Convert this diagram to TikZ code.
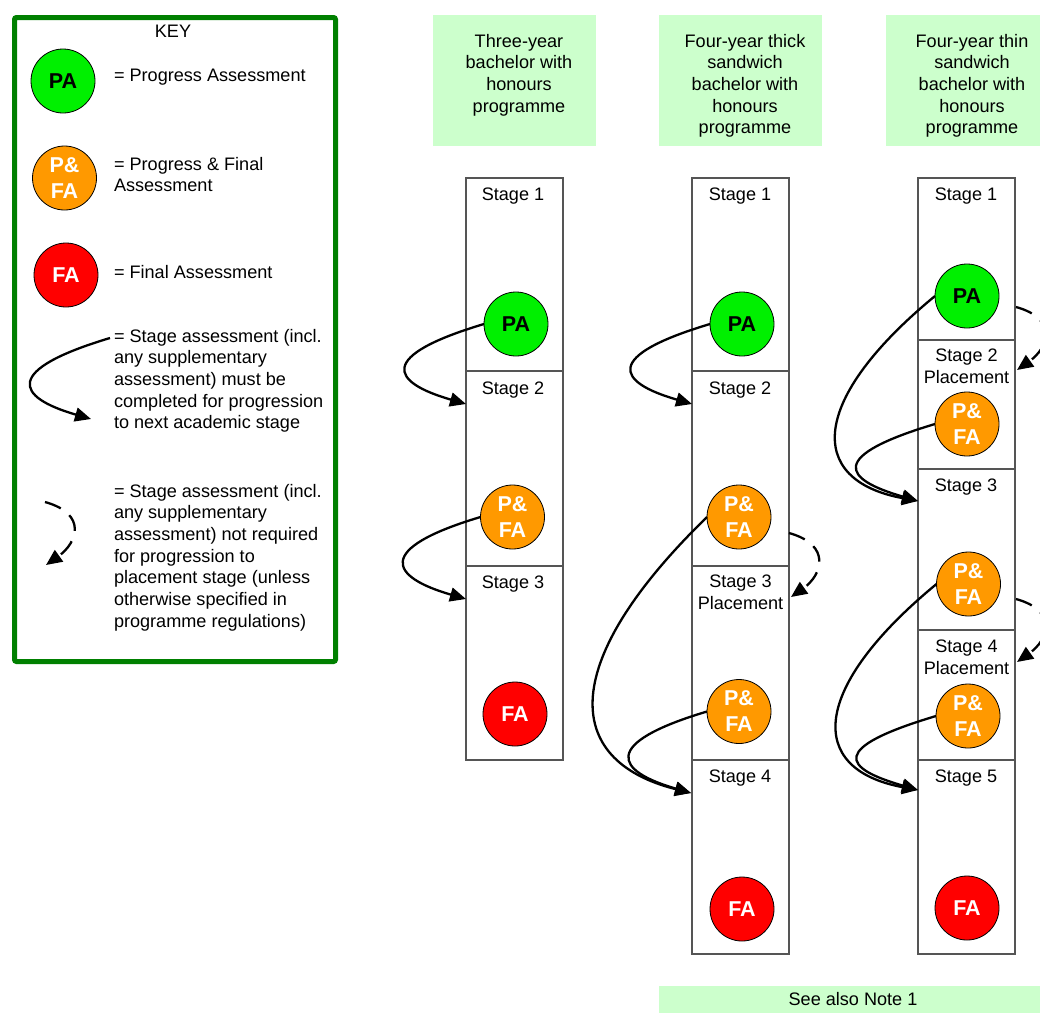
\documentclass[tikz,border=0pt]{standalone}
\usepackage{fontspec}
\setmainfont{Liberation Sans}
\usetikzlibrary{arrows.meta}
\definecolor{keygreen}{RGB}{0,128,0}
\definecolor{hdrgreen}{RGB}{204,255,204}
\definecolor{pagreen}{RGB}{0,240,0}
\definecolor{pfaorange}{RGB}{255,153,0}
\definecolor{fared}{RGB}{255,0,0}
\definecolor{stagegray}{RGB}{85,85,85}
\begin{document}
\begin{tikzpicture}[x=1pt,y=-1pt,
  every node/.style={inner sep=0pt, outer sep=0pt, font=\fontsize{18.1}{21.7}\selectfont},
  hdr/.style={fill=hdrgreen, minimum width=163pt, minimum height=131pt, anchor=north west},
  txt/.style={align=center, anchor=north},
  ltxt/.style={align=left, anchor=north west},
  stagebox/.style={draw=stagegray, line width=1.1pt, minimum width=97pt, anchor=north west},
  asmt/.style={circle, draw=black, line width=0.8pt, minimum size=64pt, align=center,
    font=\fontsize{21.5}{26}\selectfont\bfseries},
  pa/.style={asmt, fill=pagreen, text=black},
  pfa/.style={asmt, fill=pfaorange, text=white},
  fa/.style={asmt, fill=fared, text=white},
  flow/.style={line width=2.3pt, -{Triangle[length=16pt,width=14pt]}},
  opt/.style={line width=2.3pt, dash pattern=on 17pt off 11pt, -{Triangle[length=16pt,width=14pt]}},
  shortloop/.style={to path={.. controls +(-107,32) and +(-76,-22) .. (\tikztotarget)}},
  longloop/.style={to path={.. controls +(-147,143) and +(-131,-33) .. (\tikztotarget)}},
  midloop/.style={to path={.. controls +(-125,103) and +(-113,-21) .. (\tikztotarget)}},
  dashloop/.style={to path={.. controls +(43,12) and +(31,-22) .. (\tikztotarget)}}
]
\useasboundingbox (0,0) rectangle (1040,1012);

% ---------- KEY ----------
\draw[keygreen, line width=5pt, rounded corners=2pt] (14.5,17.5) rectangle (335.5,661.5);
\node[anchor=base] (keytitle) at (173,37) {KEY};
\node[pa] (kpa) at (63,81) {PA};
\node[anchor=base west] (kpat) at (114,81) {= Progress Assessment};
\node[pfa] (kpfa) at (64.5,178) {P\&\\FA};
\node[ltxt] (kpfat) at (114,157) {= Progress \& Final\\Assessment};
\node[fa] (kfa) at (66,275) {FA};
\node[anchor=base west] (kfat) at (114,278) {= Final Assessment};
\node[ltxt] (ksolidt) at (114,329) {= Stage assessment (incl.\\any supplementary\\assessment) must be\\completed for progression\\to next academic stage};
\node[ltxt] (kdasht) at (114,484) {= Stage assessment (incl.\\any supplementary\\assessment) not required\\for progression to\\placement stage (unless\\otherwise specified in\\programme regulations)};
\coordinate (ks) at (110,338);
\coordinate (kt) at (91,419);
\coordinate (kds) at (45,502);
\coordinate (kdt) at (46,565);
\draw[flow] (ks) to[shortloop] (kt);
\draw[opt] (kds) to[dashloop] (kdt);

% ---------- headers ----------
\node[hdr] (h1) at (433,15) {};
\node[hdr] (h2) at (659,15) {};
\node[hdr] (h3) at (886,15) {};
\node[txt] (h1t) at (519,34) {Three-year\\bachelor with\\honours\\programme};
\node[txt] (h2t) at (745,34) {Four-year thick\\sandwich\\bachelor with\\honours\\programme};
\node[txt] (h3t) at (972,34) {Four-year thin\\sandwich\\bachelor with\\honours\\programme};

% ---------- column 1 ----------
\node[stagebox, minimum height=193pt] (c1s1) at (466,178) {};
\node[stagebox, minimum height=195pt] (c1s2) at (466,371) {};
\node[stagebox, minimum height=194pt] (c1s3) at (466,566) {};
\node[anchor=base] (c1l1) at (513,200) {Stage 1};
\node[anchor=base] (c1l2) at (513,394) {Stage 2};
\node[anchor=base] (c1l3) at (513,588) {Stage 3};
\node[pa] (c1pa) at (516,324) {PA};
\node[pfa] (c1pfa) at (512.5,517) {P\&\\FA};
\node[fa] (c1fa) at (515,714) {FA};

% ---------- column 2 ----------
\node[stagebox, minimum height=193pt] (c2s1) at (692,178) {};
\node[stagebox, minimum height=195pt] (c2s2) at (692,371) {};
\node[stagebox, minimum height=194pt] (c2s3) at (692,566) {};
\node[stagebox, minimum height=194pt] (c2s4) at (692,760) {};
\node[anchor=base] (c2l1) at (740,200) {Stage 1};
\node[anchor=base] (c2l2) at (740,394) {Stage 2};
\node[txt] (c2l3) at (740.5,575) {Stage 3\\Placement};
\node[anchor=base] (c2l4) at (740,782) {Stage 4};
\node[pa] (c2pa) at (742,324) {PA};
\node[pfa] (c2pfa1) at (739,517) {P\&\\FA};
\node[pfa] (c2pfa2) at (739,711.5) {P\&\\FA};
\node[fa] (c2fa) at (742,909) {FA};

% ---------- column 3 ----------
\node[stagebox, minimum height=162pt] (c3s1) at (918,178) {};
\node[stagebox, minimum height=129pt] (c3s2) at (918,340) {};
\node[stagebox, minimum height=161pt] (c3s3) at (918,469) {};
\node[stagebox, minimum height=130pt] (c3s4) at (918,630) {};
\node[stagebox, minimum height=194pt] (c3s5) at (918,760) {};
\node[anchor=base] (c3l1) at (966,200) {Stage 1};
\node[txt] (c3l2) at (966.5,349) {Stage 2\\Placement};
\node[anchor=base] (c3l3) at (966,491) {Stage 3};
\node[txt] (c3l4) at (966.5,640) {Stage 4\\Placement};
\node[anchor=base] (c3l5) at (966,782) {Stage 5};
\node[pa] (c3pa) at (967,296) {PA};
\node[pfa] (c3pfa1) at (967,424) {P\&\\FA};
\node[pfa] (c3pfa2) at (968.5,584) {P\&\\FA};
\node[pfa] (c3pfa3) at (968,716) {P\&\\FA};
\node[fa] (c3fa) at (967,908) {FA};

% ---------- note bar ----------
\node[fill=hdrgreen, minimum width=388pt, minimum height=30pt, anchor=north west] (note) at (659,986) {};
\node[anchor=base] (notet) at (853,1005) {See also Note 1};

% ---------- connectors ----------
\coordinate (t11) at (466,404);
\coordinate (t12) at (466,599);
\coordinate (t21) at (692,404);
\coordinate (t22) at (691,793);
\coordinate (t31) at (918,501);
\coordinate (t32) at (918,790);
\draw[flow] (c1pa.west) to[shortloop] (t11);
\draw[flow] (c1pfa.west) to[shortloop] (t12);
\draw[flow] (c2pa.west) to[shortloop] (t21);
\draw[flow] (c2pfa1.west) to[longloop] (t22);
\draw[flow] (c2pfa2.west) to[shortloop] (t22);
\draw[flow] (c3pa.west) to[midloop] (t31);
\draw[flow] (c3pfa1.west) to[shortloop] (t31);
\draw[flow] (c3pfa2.west) to[midloop] (t32);
\draw[flow] (c3pfa3.west) to[shortloop] (t32);

\coordinate (d2s) at (789,533);
\coordinate (d2t) at (791,597);
\coordinate (d3s) at (1016,307);
\coordinate (d3t) at (1017,370);
\coordinate (d4s) at (1016,599);
\coordinate (d4t) at (1017,662);
\draw[opt] (d2s) to[dashloop] (d2t);
\draw[opt] (d3s) to[dashloop] (d3t);
\draw[opt] (d4s) to[dashloop] (d4t);
\end{tikzpicture}
\end{document}
